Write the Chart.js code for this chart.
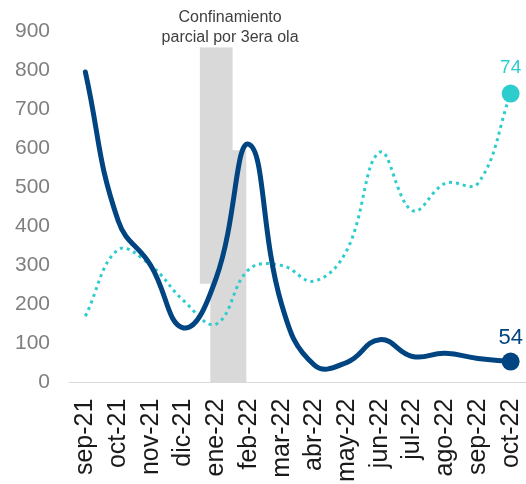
<!DOCTYPE html>
<html>
<head>
<meta charset="utf-8">
<script src="https://cdn.jsdelivr.net/npm/chart.js@4"></script>
<style>
  body { margin: 0; background: #fff; }
  #wrap { width: 526px; height: 484px; overflow: hidden; }
  #inner { width: 536px; height: 484px; position: relative; }
</style>
</head>
<body>
<div id="wrap"><div id="inner"><canvas id="myChart"></canvas></div></div>
<script>
// months on the x axis
var months = ["sep-21", "oct-21", "nov-21", "dic-21", "ene-22", "feb-22", "mar-22",
  "abr-22", "may-22", "jun-22", "jul-22", "ago-22", "sep-22", "oct-22"];
// navy series (left axis)
var navyValues = [795, 415, 300, 140, 268, 610, 200, 45, 52, 110, 67, 75, 62, 54];
// aqua dotted series (hidden right axis)
var aquaValues = [17, 34, 30, 21, 15, 29, 30, 26, 34, 59, 44, 51, 51, 74];
// left axis ticks
var yTicks = [0, 100, 200, 300, 400, 500, 600, 700, 800, 900];
// shaded "confinamiento" blocks: x range in category units, y range in values
var shadeX = [[3.5, 4.5], [3.82, 4.92]];
var shadeY = [[253, 858], [0, 595]];
var noteLines = ["Confinamiento", "parcial por 3era ola"];

var NAVY = "#004481";
var AQUA = "#2dcccd";

function lastOnly(arr, size) {
  return arr.map(function (v, i) { return i == arr.length - 1 ? size : 0; });
}

// gray blocks behind the lines
var shadePlugin = {
  id: "shade",
  beforeDatasetsDraw: function (chart) {
    var ctx = chart.ctx;
    var x = chart.scales.x, y = chart.scales.y;
    ctx.save();
    ctx.fillStyle = "#d9d9d9";
    for (var i = 0; i < shadeX.length; i++) {
      var x0 = x.getPixelForValue(shadeX[i][0]);
      var x1 = x.getPixelForValue(shadeX[i][1]);
      var y0 = y.getPixelForValue(shadeY[i][1]);
      var y1 = y.getPixelForValue(shadeY[i][0]);
      ctx.fillRect(x0, y0, x1 - x0, y1 - y0);
    }
    ctx.restore();
  },
  afterDatasetsDraw: function (chart) {
    var ctx = chart.ctx;
    ctx.save();
    // note over the blocks
    var cx = (chart.scales.x.getPixelForValue(shadeX[0][0]) + chart.scales.x.getPixelForValue(shadeX[1][1])) / 2 + 7;
    ctx.font = "16px 'Liberation Sans', Arial, sans-serif";
    ctx.fillStyle = "#404040";
    ctx.textAlign = "center";
    ctx.textBaseline = "middle";
    ctx.fillText(noteLines[0], cx, 18);
    ctx.fillText(noteLines[1], cx, 38);

    // end labels
    var n = months.length - 1;
    var navyPt = chart.getDatasetMeta(0).data[n];
    var aquaPt = chart.getDatasetMeta(1).data[n];
    ctx.textBaseline = "alphabetic";
    ctx.font = "22px 'Liberation Sans', Arial, sans-serif";
    ctx.fillStyle = NAVY;
    ctx.fillText(String(navyValues[n]), navyPt.x, navyPt.y - 18);
    ctx.font = "19px 'Liberation Sans', Arial, sans-serif";
    ctx.fillStyle = AQUA;
    ctx.fillText(String(aquaValues[n]), aquaPt.x, aquaPt.y - 21);
    ctx.restore();
  }
};

new Chart(document.getElementById("myChart"), {
  type: "line",
  data: {
    labels: months,
    datasets: [
      {
        data: navyValues,
        yAxisID: "y",
        borderColor: NAVY,
        backgroundColor: NAVY,
        borderWidth: 5,
        tension: 0.45,
        pointRadius: lastOnly(navyValues, 9),
        pointBorderWidth: 0,
        borderCapStyle: "round"
      },
      {
        data: aquaValues,
        yAxisID: "y2",
        borderColor: AQUA,
        backgroundColor: AQUA,
        borderWidth: 3,
        borderDash: [3, 4],
        tension: 0.4,
        pointRadius: lastOnly(aquaValues, 9),
        pointBorderWidth: 0
      }
    ]
  },
  options: {
    responsive: true,
    maintainAspectRatio: false,
    animation: false,
    layout: { padding: { left: 0, top: 31, right: 0, bottom: -6 } },
    plugins: { legend: { display: false }, tooltip: { enabled: false } },
    scales: {
      x: {
        offset: true,
        grid: { display: false },
        border: { display: true, color: "#d9d9d9", width: 1 },
        afterFit: function (axis) {
          axis.paddingLeft = 0;
          axis.paddingRight = 0;
        },
        ticks: {
          autoSkip: false,
          minRotation: 90,
          maxRotation: 90,
          padding: 8,
          color: "#1a1a1a",
          font: { family: "'Liberation Sans', Arial, sans-serif", size: 25 }
        }
      },
      y: {
        min: 0,
        max: 900,
        afterBuildTicks: function (axis) {
          axis.ticks = yTicks.map(function (v) { return { value: v }; });
        },
        afterFit: function (axis) {
          axis.width = 69;
          axis.paddingTop = 0;
          axis.paddingBottom = 0;
        },
        grid: { display: false },
        border: { display: false },
        ticks: {
          padding: 11,
          color: "#7f7f7f",
          font: { family: "'Liberation Sans', Arial, sans-serif", size: 21 }
        }
      },
      y2: {
        display: false,
        min: 0,
        max: 90
      }
    }
  },
  plugins: [shadePlugin]
});
</script>
</body>
</html>
